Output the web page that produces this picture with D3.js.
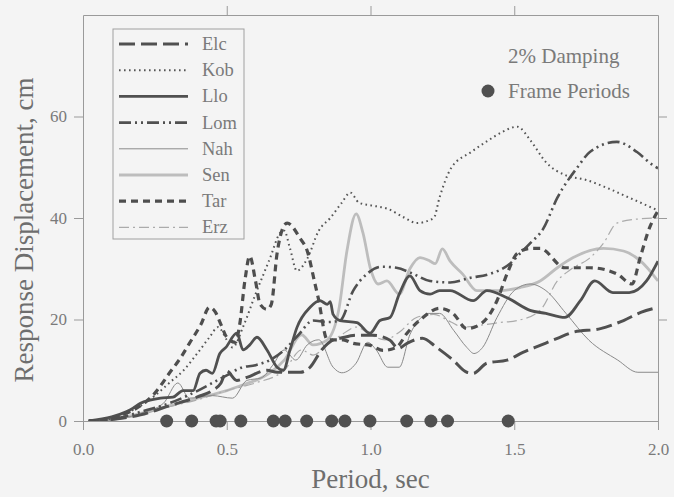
<!DOCTYPE html>
<html>
<head>
<meta charset="utf-8">
<script src="https://cdn.jsdelivr.net/npm/d3@7"></script>
<style>
  html, body { margin: 0; padding: 0; background: #f4f4f4; }
  svg { display: block; }
  text { font-family: "Liberation Serif", "DejaVu Serif", serif; }
</style>
</head>
<body>
<svg id="chart" width="674" height="497"></svg>
<script>
// Spectral response displacement (cm) vs. period (s), 2% damping
const elc = [[0.02,0],[0.1,0.3],[0.2,1.2],[0.3,3],[0.4,4.8],[0.45,6],[0.48,7.5],[0.5,9.8],[0.535,8],[0.57,8.6],[0.64,10],[0.675,9.6],[0.755,9.6],[0.79,10.6],[0.83,14],[0.87,16],[0.894,16.3],[0.953,16.9],[1.01,16.9],[1.068,15.9],[1.096,14.3],[1.127,15.3],[1.18,16.3],[1.23,14.5],[1.287,12],[1.335,9.6],[1.357,9.4],[1.405,11.4],[1.475,12],[1.53,13.5],[1.59,14.9],[1.65,16.3],[1.705,17.5],[1.8,18.2],[1.88,19.8],[1.94,21.4],[2.0,22.4]];
const kob = [[0.02,0],[0.1,0.5],[0.15,1.5],[0.2,3],[0.25,5],[0.3,7.5],[0.35,10],[0.4,13.5],[0.44,16.5],[0.47,18.5],[0.5,16],[0.52,14.5],[0.56,19],[0.6,25],[0.65,32],[0.685,37],[0.7,37.5],[0.72,34],[0.744,29.6],[0.78,32],[0.82,37.5],[0.86,40],[0.9,43],[0.93,45],[0.96,43],[1.0,42.5],[1.06,41.8],[1.12,40],[1.16,39],[1.22,40],[1.24,44],[1.28,49.8],[1.35,53],[1.41,55.3],[1.46,57],[1.51,58],[1.56,55],[1.61,51],[1.68,48.4],[1.75,47.5],[1.82,46],[1.9,44],[2.0,41.5]];
const llo = [[0.02,0],[0.1,0.8],[0.15,1.8],[0.174,2.5],[0.2,3.5],[0.233,4.1],[0.27,4.5],[0.313,4.7],[0.348,6],[0.383,6],[0.407,9.4],[0.428,10],[0.45,9.4],[0.476,13.3],[0.497,14.5],[0.535,17.3],[0.557,14],[0.58,15],[0.605,16.5],[0.64,14],[0.675,10.6],[0.697,10],[0.72,14],[0.744,18.4],[0.79,22.4],[0.824,23.7],[0.85,23],[0.86,23.5],[0.87,21],[0.894,19.8],[0.953,19.4],[0.998,17.3],[1.033,19.8],[1.068,20.4],[1.1,25],[1.137,28.6],[1.172,25.7],[1.207,25],[1.24,25.7],[1.277,25.7],[1.357,23.7],[1.405,25.7],[1.475,24.3],[1.555,21.8],[1.61,21.2],[1.676,20.4],[1.73,23.7],[1.78,27.6],[1.843,25.3],[1.9,25.3],[1.96,27.6],[2.0,31.5]];
const lom = [[0.02,0],[0.1,0.3],[0.2,1.8],[0.3,3.5],[0.4,6],[0.45,7.5],[0.5,9],[0.55,10.5],[0.6,11],[0.65,12],[0.7,14],[0.75,17],[0.8,19.8],[0.85,19.5],[0.894,19.8],[0.94,25.7],[0.988,29],[1.04,30.4],[1.09,30.2],[1.148,29],[1.207,27.6],[1.277,27.3],[1.346,28.2],[1.416,29],[1.485,31],[1.52,33],[1.555,35],[1.6,37.8],[1.65,44],[1.72,50],[1.763,53],[1.857,55],[1.927,53],[1.98,50.5],[2.0,49.8]];
const nah = [[0.02,0],[0.1,0.2],[0.2,1.5],[0.28,3.5],[0.33,7.5],[0.37,4.5],[0.45,5],[0.52,4.5],[0.57,8],[0.62,8.5],[0.66,11],[0.7,14],[0.74,12],[0.78,15],[0.82,16],[0.87,10.6],[0.9,9.5],[0.95,11.4],[0.99,15.5],[1.02,14],[1.06,10.6],[1.1,10.6],[1.137,17],[1.17,20],[1.2,21.2],[1.24,21.2],[1.29,17.8],[1.335,14.5],[1.36,13.3],[1.39,14.5],[1.44,20.4],[1.5,25.7],[1.555,27],[1.61,25.7],[1.68,21.2],[1.76,15.9],[1.86,12],[1.93,9.6],[2.0,9.6]];
const sen = [[0.02,0],[0.1,0.3],[0.2,1.5],[0.3,3],[0.4,4.5],[0.5,6],[0.55,7],[0.6,8],[0.65,9.5],[0.7,12],[0.76,17],[0.8,15],[0.85,16],[0.89,22],[0.918,33.5],[0.95,40.8],[0.974,37],[1.0,30],[1.027,27],[1.057,27.6],[1.1,25],[1.137,30],[1.172,32.2],[1.207,31.5],[1.225,31],[1.25,33.9],[1.277,31.5],[1.32,29],[1.37,25.7],[1.45,25.7],[1.52,26.3],[1.59,27.6],[1.65,30.2],[1.705,32.2],[1.81,34],[1.88,33.5],[1.94,31.5],[2.0,27.6]];
const tar = [[0.02,0],[0.1,0.5],[0.15,1.5],[0.2,3],[0.25,5.5],[0.3,9.4],[0.34,12.5],[0.37,15.3],[0.41,19],[0.44,22.4],[0.46,21.5],[0.48,19],[0.5,16.5],[0.53,15.5],[0.545,19],[0.563,27.6],[0.58,32.5],[0.6,27.6],[0.616,23],[0.64,22],[0.655,23],[0.675,33],[0.695,38],[0.71,39],[0.755,36],[0.78,33.5],[0.807,27],[0.818,24.3],[0.85,16],[0.905,16],[0.94,15.3],[1.0,14.9],[1.044,13.9],[1.09,14.5],[1.127,17.3],[1.183,20.4],[1.24,22.2],[1.287,21.2],[1.335,18.2],[1.39,19.4],[1.44,23.7],[1.475,29],[1.51,33],[1.555,34],[1.59,34],[1.676,30.2],[1.763,30.2],[1.857,29],[1.91,27],[1.937,32],[1.97,38],[2.0,41.4]];
const erz = [[0.02,0],[0.1,0.2],[0.2,1.2],[0.3,2.8],[0.4,4.2],[0.5,6],[0.6,7.5],[0.7,10],[0.76,14],[0.8,13],[0.85,15],[0.9,17],[0.95,18.5],[1.0,17],[1.05,16],[1.1,17.5],[1.16,20.4],[1.22,21],[1.28,19.5],[1.32,18.5],[1.4,19],[1.45,19.4],[1.51,19.8],[1.59,21.8],[1.65,27.6],[1.7,30],[1.76,32],[1.81,35],[1.857,39],[1.93,39.8],[2.0,40]];

const framePeriods = [0.291, 0.378, 0.463, 0.477, 0.549, 0.662, 0.703, 0.778, 0.865, 0.911, 0.998, 1.126, 1.210, 1.268, 1.479];

const seriesNames = ["Elc", "Kob", "Llo", "Lom", "Nah", "Sen", "Tar", "Erz"];
const seriesData = [elc, kob, llo, lom, nah, sen, tar, erz];

const xTicks = [0, 0.5, 1.0, 1.5, 2.0];
const yTicks = [0, 20, 40, 60];

// line appearance per record
const styles = {
  Elc: { color: "#505050", width: 3,   dash: "16,6" },
  Kob: { color: "#555555", width: 2,   dash: "1.6,3.4" },
  Llo: { color: "#505050", width: 2.8, dash: null },
  Lom: { color: "#505050", width: 2.6, dash: "12,4,2,4,2,4" },
  Nah: { color: "#8a8a8a", width: 1,   dash: null },
  Sen: { color: "#bdbdbd", width: 2.8, dash: null },
  Tar: { color: "#4e4e4e", width: 3.2, dash: "7,5" },
  Erz: { color: "#ababab", width: 1.2, dash: "10,4,2,4" }
};

const svg = d3.select("#chart");
const W = 674, H = 497;
svg.append("rect").attr("width", W).attr("height", H).attr("fill", "#f4f4f4");

const pLeft = 83, pRight = 658, pTop = 15, pBottom = 421;
const x = d3.scaleLinear().domain([0, 2]).range([pLeft, pRight]);
const y = d3.scaleLinear().domain([0, 80]).range([pBottom, pTop]);

const axisColor = "#9a9a9a";
const textColor = "#7a7a7a";

function styleAxis(g) {
  g.selectAll("path").attr("stroke", axisColor).attr("stroke-width", 1);
  g.selectAll("line").attr("stroke", axisColor).attr("stroke-width", 1);
  g.selectAll("text").attr("fill", textColor)
    .style("font-family", "'Liberation Serif', serif").style("font-size", "17px");
}

// bottom axis (value 0 baseline)
svg.append("g").attr("transform", `translate(0,${pBottom})`)
  .call(d3.axisBottom(x).tickValues(xTicks).tickFormat(d3.format(".1f"))
    .tickSize(9).tickSizeOuter(0).tickPadding(13))
  .call(styleAxis);
// left axis
svg.append("g").attr("transform", `translate(${pLeft},0)`)
  .call(d3.axisLeft(y).tickValues(yTicks).tickSize(9).tickSizeOuter(0).tickPadding(7))
  .call(styleAxis);
// top frame
svg.append("g").attr("transform", `translate(0,${pTop})`)
  .call(d3.axisTop(x).tickValues([0.5, 1.0, 1.5]).tickFormat("").tickSize(9).tickSizeOuter(0))
  .call(styleAxis);
// right frame
svg.append("g").attr("transform", `translate(${pRight},0)`)
  .call(d3.axisRight(y).tickValues([20, 40, 60]).tickFormat("").tickSize(9).tickSizeOuter(0))
  .call(styleAxis);

// axis titles
svg.append("text")
  .attr("x", (pLeft + pRight) / 2).attr("y", 488)
  .attr("text-anchor", "middle").attr("fill", "#6e6e6e")
  .style("font-size", "27px").text("Period, sec");
svg.append("text")
  .attr("transform", `translate(33,${(pTop + pBottom) / 2 + 12}) rotate(-90)`)
  .attr("text-anchor", "middle").attr("fill", "#6e6e6e")
  .style("font-size", "27px").text("Response Displacement, cm");

// clip to plotting region
svg.append("clipPath").attr("id", "plotClip")
  .append("rect").attr("x", pLeft).attr("y", pTop).attr("width", pRight - pLeft).attr("height", pBottom - pTop);

const line = d3.line().x(d => x(d[0])).y(d => y(d[1])).curve(d3.curveMonotoneX);
const plot = svg.append("g").attr("clip-path", "url(#plotClip)");

// draw light lines first so dark ones sit on top
const order = ["Sen", "Erz", "Nah", "Elc", "Lom", "Llo", "Kob", "Tar"];
order.forEach(name => {
  const i = seriesNames.indexOf(name);
  const s = styles[name];
  plot.append("path")
    .datum(seriesData[i])
    .attr("fill", "none")
    .attr("stroke", s.color)
    .attr("stroke-width", s.width)
    .attr("stroke-dasharray", s.dash)
    .attr("stroke-linejoin", "round")
    .attr("d", line);
});

// frame periods along the zero line
svg.append("g").selectAll("circle").data(framePeriods).join("circle")
  .attr("cx", d => x(d)).attr("cy", y(0)).attr("r", 6.5)
  .attr("fill", "#505050");

// legend
const lg = svg.append("g");
lg.append("rect").attr("x", 113).attr("y", 29).attr("width", 131).attr("height", 210)
  .attr("fill", "none").attr("stroke", "#a0a0a0").attr("stroke-width", 1);
seriesNames.forEach((name, i) => {
  const s = styles[name];
  const yy = 50 + i * 26.2;
  lg.append("line").attr("x1", 119).attr("x2", 188).attr("y1", yy - 6).attr("y2", yy - 6)
    .attr("stroke", s.color).attr("stroke-width", s.width).attr("stroke-dasharray", s.dash);
  lg.append("text").attr("x", 202).attr("y", yy).attr("fill", textColor)
    .style("font-size", "18.5px").text(name);
});

// annotation
svg.append("text").attr("x", 508).attr("y", 63).attr("fill", textColor)
  .style("font-size", "21px").text("2% Damping");
svg.append("circle").attr("cx", 488).attr("cy", 91).attr("r", 6.5).attr("fill", "#505050");
svg.append("text").attr("x", 508).attr("y", 98).attr("fill", textColor)
  .style("font-size", "21px").text("Frame Periods");
</script>
</body>
</html>
